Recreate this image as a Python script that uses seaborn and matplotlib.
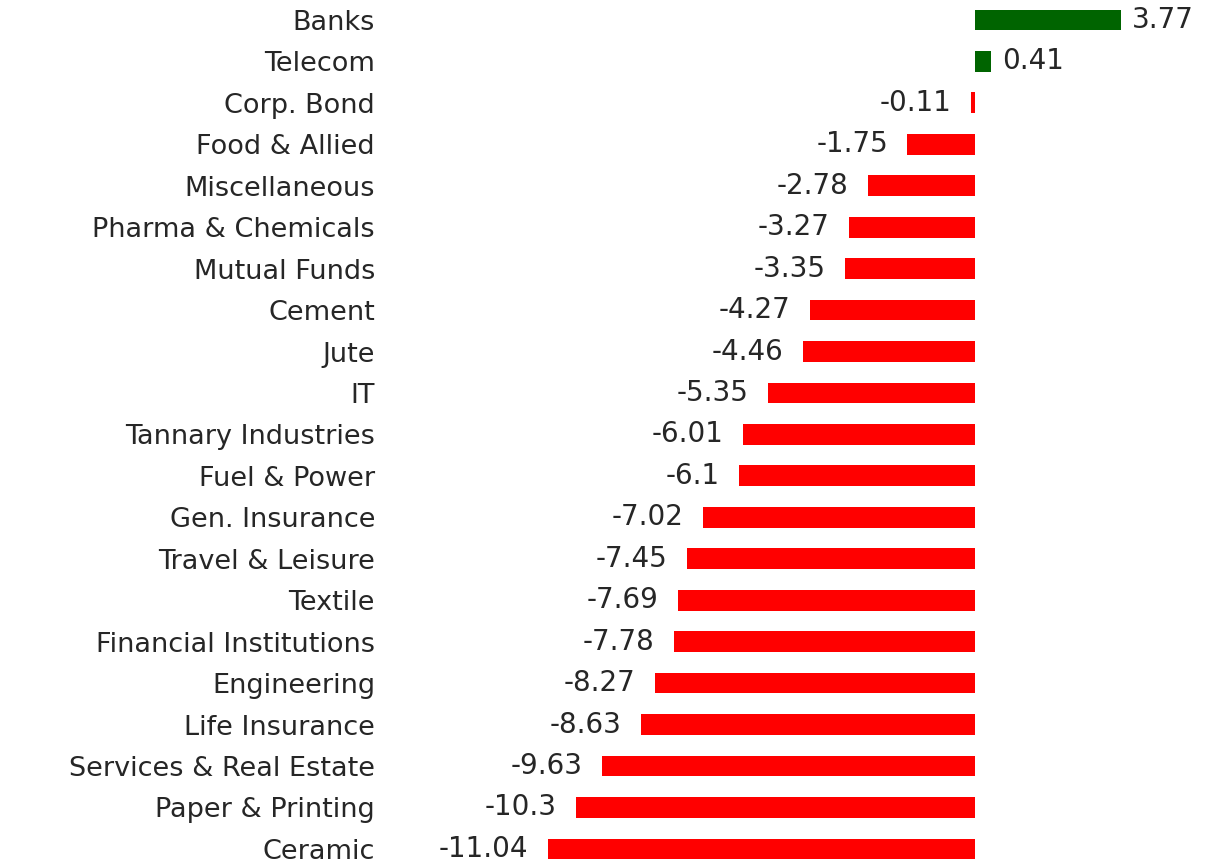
import seaborn as sns
import matplotlib.pyplot as plt
import pandas as pd

sectors = ['Banks', 'Telecom', 'Corp. Bond', 'Food & Allied', 'Miscellaneous',
           'Pharma & Chemicals', 'Mutual Funds', 'Cement', 'Jute', 'IT',
           'Tannary Industries', 'Fuel & Power', 'Gen. Insurance', 'Travel & Leisure',
           'Textile', 'Financial Institutions', 'Engineering', 'Life Insurance',
           'Services & Real Estate', 'Paper & Printing', 'Ceramic']
changes = [3.77, 0.41, -0.11, -1.75, -2.78, -3.27, -3.35, -4.27, -4.46, -5.35,
           -6.01, -6.1, -7.02, -7.45, -7.69, -7.78, -8.27, -8.63, -9.63, -10.3, -11.04]

df = pd.DataFrame({'sector': sectors, 'change': changes})
df['sign'] = ['up' if v > 0 else 'down' for v in df['change']]

sns.set_style('white')
plt.rcParams['font.family'] = 'sans-serif'
plt.rcParams['font.sans-serif'] = ['DejaVu Sans']

fig = plt.figure(figsize=(12.11, 8.63), dpi=100)
ax = fig.add_axes([400 / 1211, 0, 800 / 1211, 1])

sns.barplot(data=df, y='sector', x='change', hue='sign', orient='h',
            palette={'up': '#006400', 'down': '#ff0000'}, width=0.5,
            saturation=1, linewidth=0, dodge=False, legend=False, ax=ax,
            order=sectors)

for i, v in enumerate(changes):
    ax.annotate(f'{v:g}', (v, i), xytext=(8 if v > 0 else -14, 0),
                textcoords='offset points', ha='left' if v > 0 else 'right',
                va='center', fontsize=20, color='#262626',
                fontfamily='DejaVu Sans')

ax.set_xlim(-14.86, 5.81)
ax.set_ylim(20.34, -0.48)
ax.set_xlabel('')
ax.set_ylabel('')
ax.set_xticks([])
ax.tick_params(axis='y', length=0, pad=18, labelsize=19.5, labelcolor='#262626')
for lbl in ax.get_yticklabels():
    lbl.set_fontfamily('DejaVu Sans')
sns.despine(ax=ax, left=True, bottom=True)

fig.savefig('out.png', dpi=100)
